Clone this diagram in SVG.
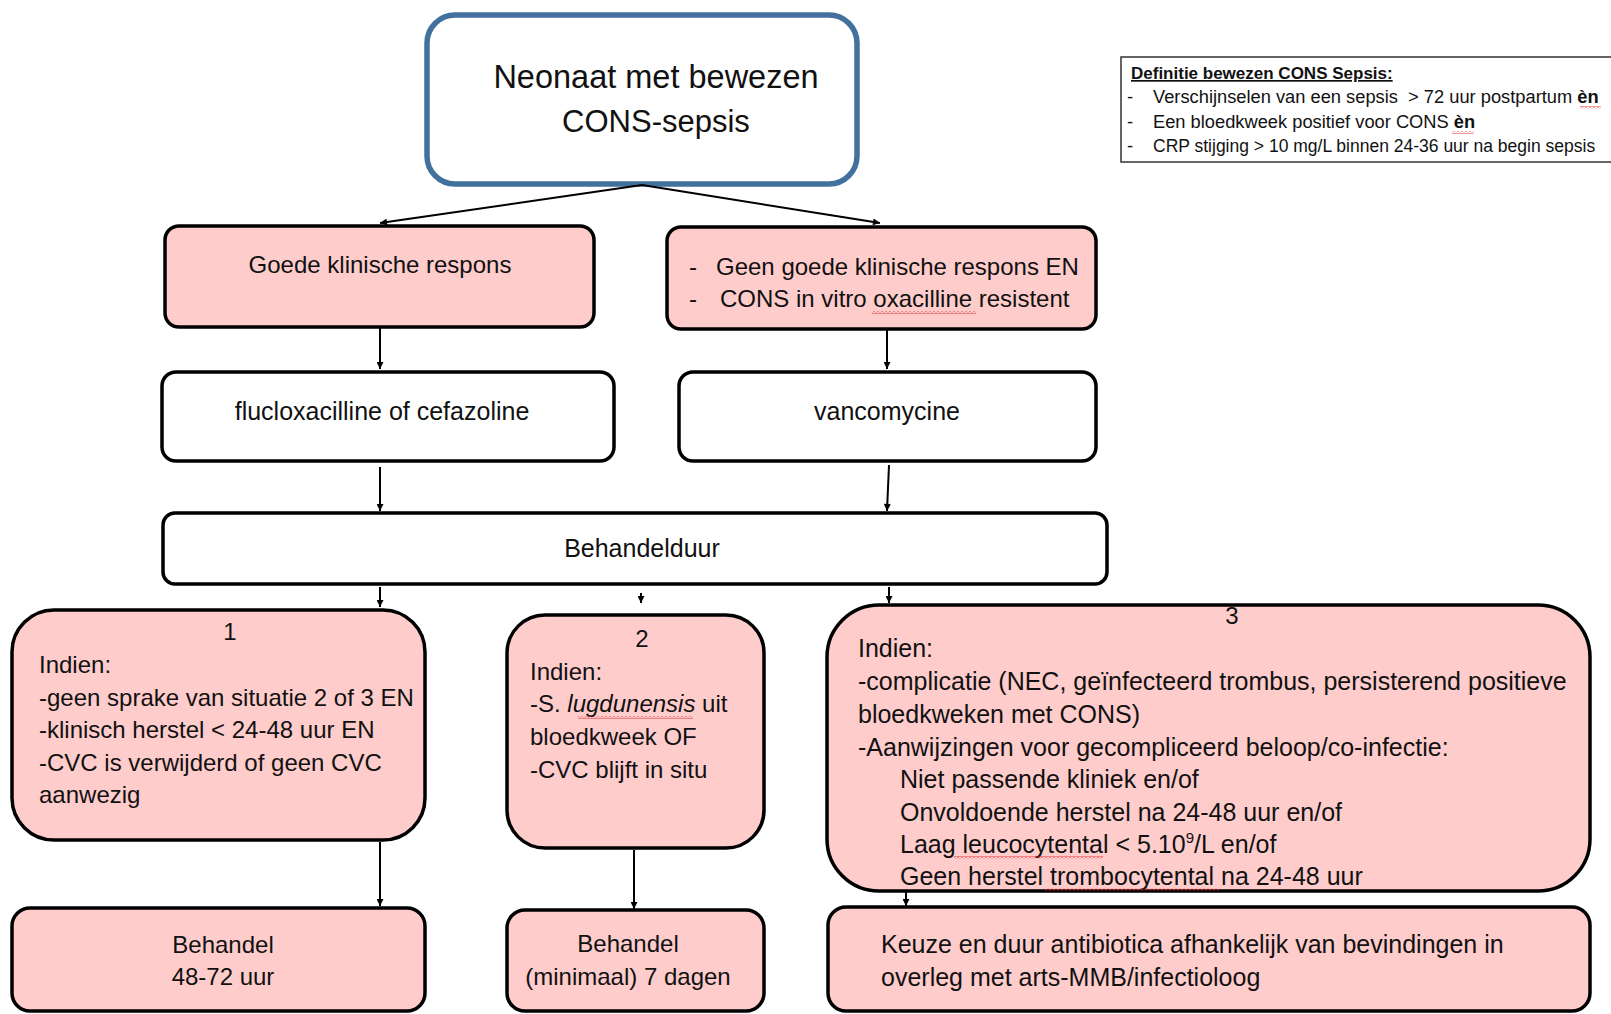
<svg xmlns="http://www.w3.org/2000/svg" width="1611" height="1014" viewBox="0 0 1611 1014">
<style>
  text { font-family: "Liberation Sans", Arial, sans-serif; fill: #111; }
  .pink { fill: #ffcccc; stroke: #000; stroke-width: 3.5; }
  .white { fill: #ffffff; stroke: #000; stroke-width: 3.5; }
  .t24 { font-size: 24px; }
  .t25 { font-size: 25px; }
  .mid { text-anchor: middle; }
  .def { font-size: 18.3px; white-space: pre; }
  .conn { stroke: #000; stroke-width: 2; fill: none; marker-end: url(#arr); }
</style>
<defs>
  <marker id="arr" viewBox="0 0 10 10" refX="10" refY="5" markerWidth="8" markerHeight="7" markerUnits="userSpaceOnUse" orient="auto">
    <path d="M0,0 L10,5 L0,10 z" fill="#000"/>
  </marker>
  <pattern id="wave" width="4" height="3" patternUnits="userSpaceOnUse">
    <path d="M0,0.5 L2,2.5 L4,0.5" stroke="#e02020" stroke-width="0.9" fill="none"/>
  </pattern>
</defs>

<g id="start">
  <rect x="427" y="15" width="430" height="169" rx="28" fill="#fff" stroke="#41719c" stroke-width="5.5"/>
  <text x="656" y="88" class="mid" font-size="32.5">Neonaat met bewezen</text>
  <text x="656" y="132" class="mid" font-size="31">CONS-sepsis</text>
</g>

<g id="definitie">
  <rect x="1121" y="57" width="520" height="105" fill="#fff" stroke="#333" stroke-width="1.5"/>
  <text x="1131" y="79" font-size="17" font-weight="bold" text-decoration="underline">Definitie bewezen CONS Sepsis:</text>
  <text x="1127" y="103" class="def">-</text>
  <text x="1153" y="103" class="def">Verschijnselen van een sepsis  &gt; 72 uur postpartum <tspan font-weight="bold">èn</tspan></text>
  <text x="1127" y="128" class="def">-</text>
  <text x="1153" y="128" class="def">Een bloedkweek positief voor CONS <tspan font-weight="bold">èn</tspan></text>
  <text x="1127" y="152" class="def">-</text>
  <text x="1153" y="152" class="def" style="font-size:17.5px">CRP stijging &gt; 10 mg/L binnen 24-36 uur na begin sepsis</text>
</g>

<g id="goede-respons">
  <rect x="165" y="226" width="429" height="101" rx="14" class="pink"/>
  <text x="380" y="273" class="t24 mid">Goede klinische respons</text>
</g>

<g id="geen-goede-respons">
  <rect x="667" y="227" width="429" height="102" rx="14" class="pink"/>
  <text x="689" y="275" class="t24">-</text>
  <text x="716" y="275" class="t24">Geen goede klinische respons EN</text>
  <text x="689" y="307" class="t24">-</text>
  <text x="720" y="307" class="t24">CONS in vitro oxacilline resistent</text>
</g>

<g id="flucloxacilline">
  <rect x="162" y="372" width="452" height="89" rx="14" class="white"/>
  <text x="382" y="420" class="t25 mid">flucloxacilline of cefazoline</text>
</g>

<g id="vancomycine">
  <rect x="679" y="372" width="417" height="89" rx="14" class="white"/>
  <text x="887" y="420" class="t25 mid">vancomycine</text>
</g>

<g id="behandelduur">
  <rect x="163" y="513" width="944" height="71" rx="12" class="white"/>
  <text x="642" y="557" class="t25 mid">Behandelduur</text>
</g>

<g id="situatie-1">
  <rect x="12" y="610" width="413" height="230" rx="42" class="pink"/>
  <text x="230" y="640" class="t24 mid">1</text>
  <text x="39" y="673" class="t24">Indien:</text>
  <text x="39" y="706" class="t24">-geen sprake van situatie 2 of 3 EN</text>
  <text x="39" y="738" class="t24">-klinisch herstel &lt; 24-48 uur EN</text>
  <text x="39" y="771" class="t24">-CVC is verwijderd of geen CVC</text>
  <text x="39" y="803" class="t24">aanwezig</text>
</g>

<g id="situatie-2">
  <rect x="507" y="615" width="257" height="233" rx="38" class="pink"/>
  <text x="642" y="647" class="t24 mid">2</text>
  <text x="530" y="680" class="t24">Indien:</text>
  <text x="530" y="712" class="t24">-S. <tspan font-style="italic">lugdunensis</tspan> uit</text>
  <text x="530" y="745" class="t24">bloedkweek OF</text>
  <text x="530" y="778" class="t24">-CVC blijft in situ</text>
</g>

<g id="situatie-3">
  <rect x="827" y="605" width="763" height="286" rx="52" class="pink"/>
  <text x="1232" y="624" class="t24 mid">3</text>
  <text x="858" y="657" class="t25">Indien:</text>
  <text x="858" y="690" class="t25">-complicatie (NEC, geïnfecteerd trombus, persisterend positieve</text>
  <text x="858" y="723" class="t25">bloedkweken met CONS)</text>
  <text x="858" y="756" class="t25">-Aanwijzingen voor gecompliceerd beloop/co-infectie:</text>
  <text x="900" y="788" class="t25">Niet passende kliniek en/of</text>
  <text x="900" y="821" class="t25">Onvoldoende herstel na 24-48 uur en/of</text>
  <text x="900" y="853" class="t25">Laag leucocytental &lt; 5.10<tspan font-size="15" dy="-10">9</tspan><tspan dy="10">/L en/of</tspan></text>
  <text x="900" y="885" class="t25">Geen herstel trombocytental na 24-48 uur</text>
</g>

<g id="behandel-1">
  <rect x="12" y="908" width="413" height="103" rx="18" class="pink"/>
  <text x="223" y="953" class="t24 mid">Behandel</text>
  <text x="223" y="985" class="t24 mid">48-72 uur</text>
</g>

<g id="behandel-2">
  <rect x="507" y="910" width="257" height="101" rx="18" class="pink"/>
  <text x="628" y="952" class="t24 mid">Behandel</text>
  <text x="628" y="985" class="t24 mid">(minimaal) 7 dagen</text>
</g>

<g id="keuze">
  <rect x="828" y="907" width="762" height="104" rx="18" class="pink"/>
  <text x="881" y="953" class="t25">Keuze en duur antibiotica afhankelijk van bevindingen in</text>
  <text x="881" y="986" class="t25">overleg met arts-MMB/infectioloog</text>
</g>

<g id="spellcheck-marks">
  <rect x="1580" y="106" width="21" height="3" fill="url(#wave)"/>
  <rect x="1452" y="131" width="22" height="3" fill="url(#wave)"/>
  <rect x="872" y="311" width="104" height="3" fill="url(#wave)"/>
  <rect x="578" y="716" width="115" height="3" fill="url(#wave)"/>
  <rect x="954" y="856" width="149" height="3" fill="url(#wave)"/>
  <rect x="1045" y="888" width="174" height="3" fill="url(#wave)"/>
</g>

<g id="connectors">
  <line class="conn" x1="642" y1="185" x2="380" y2="223"/>
  <line class="conn" x1="642" y1="185" x2="880" y2="223"/>
  <line class="conn" x1="380" y1="328" x2="380" y2="369"/>
  <line class="conn" x1="887" y1="330" x2="887" y2="369"/>
  <line class="conn" x1="380" y1="467" x2="380" y2="511"/>
  <line class="conn" x1="889" y1="465" x2="887" y2="511"/>
  <line class="conn" x1="380" y1="587" x2="380" y2="607"/>
  <line class="conn" x1="641" y1="593" x2="641" y2="603"/>
  <line class="conn" x1="889" y1="587" x2="889" y2="603"/>
  <line class="conn" x1="380" y1="842" x2="380" y2="906"/>
  <line class="conn" x1="634" y1="850" x2="634" y2="909"/>
  <line class="conn" x1="906" y1="892" x2="906" y2="906"/>
</g>
</svg>
